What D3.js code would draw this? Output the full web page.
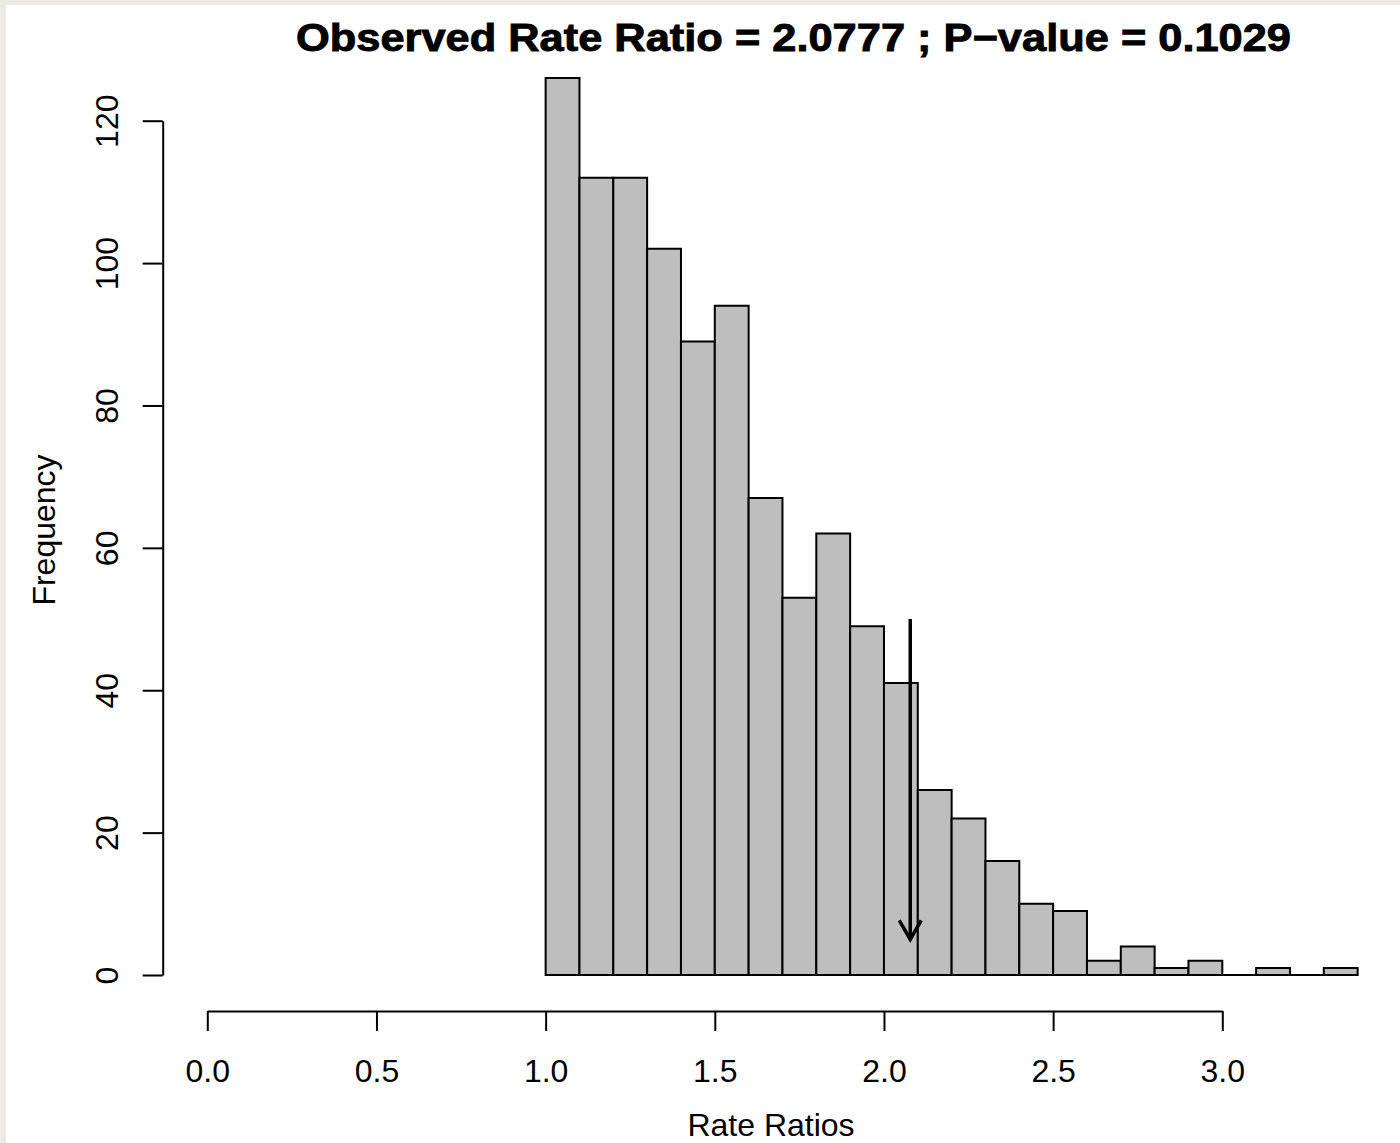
<!DOCTYPE html>
<html>
<head>
<meta charset="utf-8">
<script src="https://cdn.jsdelivr.net/npm/d3@7"></script>
<style>
  html, body { margin: 0; padding: 0; background: #ffffff; }
  svg { display: block; }
  text { font-family: "Liberation Sans", Arial, Helvetica, sans-serif; fill: #000; }
</style>
</head>
<body>
<script>
// ---- data ----
const binLower = [1.0, 1.1, 1.2, 1.3, 1.4, 1.5, 1.6, 1.7, 1.8, 1.9, 2.0, 2.1,
                  2.2, 2.3, 2.4, 2.5, 2.6, 2.7, 2.8, 2.9, 3.0, 3.1, 3.2, 3.3];
const binUpper = [1.1, 1.2, 1.3, 1.4, 1.5, 1.6, 1.7, 1.8, 1.9, 2.0, 2.1, 2.2,
                  2.3, 2.4, 2.5, 2.6, 2.7, 2.8, 2.9, 3.0, 3.1, 3.2, 3.3, 3.4];
const counts   = [126, 112, 112, 102, 89, 94, 67, 53, 62, 49, 41, 26,
                  22, 16, 10, 9, 2, 4, 1, 2, 0, 1, 0, 1];
const xTicks = [0.0, 0.5, 1.0, 1.5, 2.0, 2.5, 3.0];
const yTicks = [0, 20, 40, 60, 80, 100, 120];
const observed = 2.0777;
const arrowFrom = 50;
const arrowTo = 5;
const titleText = "Observed Rate Ratio = 2.0777 ; P\u2212value = 0.1029";
const xLabel = "Rate Ratios";
const yLabel = "Frequency";

// ---- layout ----
const W = 1400, H = 1143;
const svg = d3.select("body").append("svg").attr("width", W).attr("height", H);

svg.append("rect").attr("x", 0).attr("y", 0).attr("width", W).attr("height", H).attr("fill", "#ffffff");
// beige frame remnants
svg.append("rect").attr("x", 0).attr("y", 0).attr("width", W).attr("height", 5).attr("fill", "#edeae3");
svg.append("rect").attr("x", 0).attr("y", 0).attr("width", 6).attr("height", H).attr("fill", "#edeae3");

const x = d3.scaleLinear().domain([0, 3]).range([207.3, 1222.3]);
const y = d3.scaleLinear().domain([0, 120]).range([975, 120.7]);

// bars (paths so zero-count bins still show as a baseline segment, as in R)
const bins = binLower.map((lo, i) => ({ lo, hi: binUpper[i], n: counts[i] }));
svg.append("g").selectAll("path").data(bins).join("path")
  .attr("d", d => {
    const p = d3.path();
    p.moveTo(x(d.lo), y(0));
    p.lineTo(x(d.lo), y(d.n));
    p.lineTo(x(d.hi), y(d.n));
    p.lineTo(x(d.hi), y(0));
    p.closePath();
    return p.toString();
  })
  .attr("fill", "#bebebe")
  .attr("stroke", "#000")
  .attr("stroke-width", 2);

// x axis
const gx = svg.append("g").attr("transform", "translate(0,1011)")
  .call(d3.axisBottom(x).tickValues(xTicks).tickFormat(d3.format(".1f")).tickSize(20).tickSizeOuter(0));
gx.select(".domain").attr("stroke", "#000").attr("stroke-width", 2);
gx.selectAll(".tick line").attr("stroke", "#000").attr("stroke-width", 2);
gx.selectAll(".tick text").attr("y", 71).attr("dy", 0)
  .style("font-size", "32px").style("font-family", "'Liberation Sans', Arial, sans-serif").attr("fill", "#000");

// y axis
const gy = svg.append("g").attr("transform", "translate(162.7,0)")
  .call(d3.axisLeft(y).tickValues(yTicks).tickFormat(d3.format("d")).tickSize(20).tickSizeOuter(0));
gy.select(".domain").attr("stroke", "#000").attr("stroke-width", 2);
gy.selectAll(".tick line").attr("stroke", "#000").attr("stroke-width", 2);
gy.selectAll(".tick text")
  .attr("x", 0).attr("y", -44.4).attr("dy", 0)
  .attr("transform", "rotate(-90)")
  .attr("text-anchor", "middle")
  .style("font-size", "32px").style("font-family", "'Liberation Sans', Arial, sans-serif").attr("fill", "#000");

// arrow
const ax = x(observed);
svg.append("line")
  .attr("x1", ax).attr("y1", y(arrowFrom))
  .attr("x2", ax).attr("y2", y(arrowTo))
  .attr("stroke", "#000").attr("stroke-width", 3.5);
const tipY = y(arrowTo);
svg.append("path")
  .attr("d", d3.line()([[ax - 11, tipY - 19], [ax, tipY], [ax + 11, tipY - 19]]))
  .attr("fill", "none").attr("stroke", "#000").attr("stroke-width", 3.5)
  .attr("stroke-linejoin", "miter");

// title
svg.append("text")
  .attr("x", 296).attr("y", 51)
  .attr("text-anchor", "start")
  .attr("textLength", 995).attr("lengthAdjust", "spacingAndGlyphs")
  .style("font-size", "38px").style("font-weight", "bold")
  .attr("stroke", "#000").attr("stroke-width", 0.9)
  .text(titleText);

// axis titles
svg.append("text")
  .attr("x", 771).attr("y", 1135.5)
  .attr("text-anchor", "middle")
  .style("font-size", "32px")
  .text(xLabel);

svg.append("text")
  .attr("transform", "translate(55,530) rotate(-90)")
  .attr("text-anchor", "middle")
  .style("font-size", "32px")
  .text(yLabel);
</script>
</body>
</html>
